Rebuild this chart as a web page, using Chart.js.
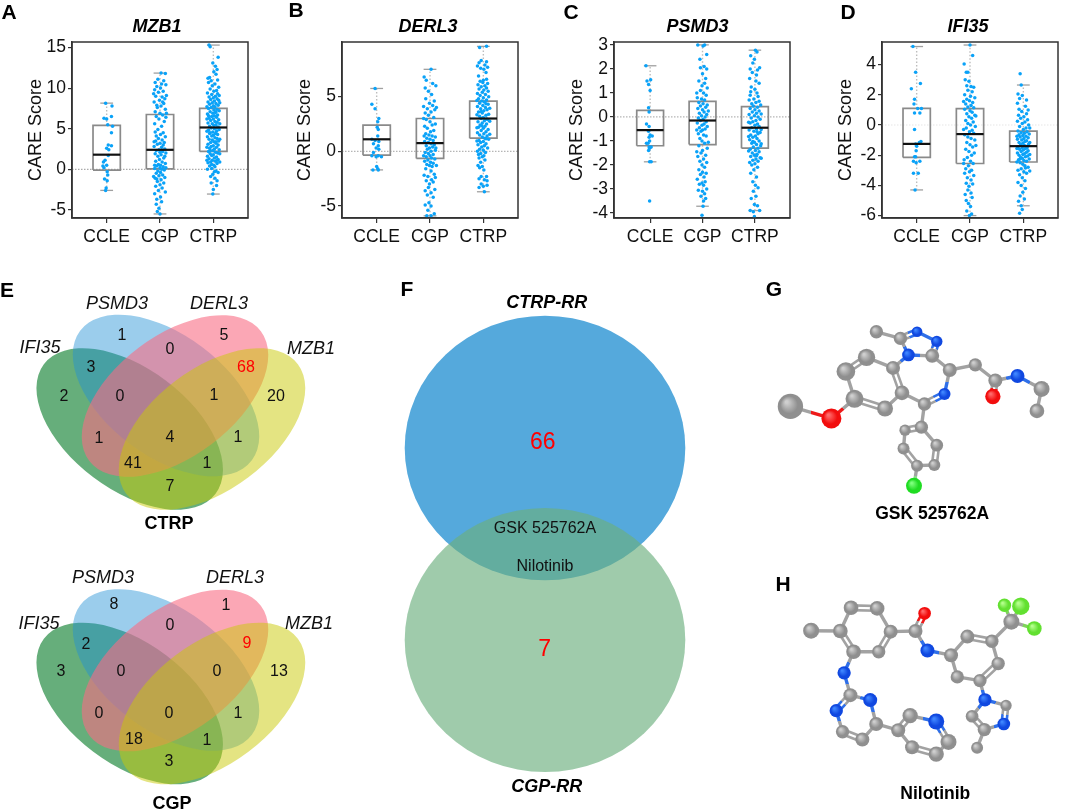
<!DOCTYPE html>
<html>
<head>
<meta charset="utf-8">
<script src="https://cdn.jsdelivr.net/npm/chart.js@4"></script>
<style>
  html, body { margin: 0; background: #fff; width: 1065px; height: 812px; overflow: hidden; }
  canvas { position: absolute; }
  .letter { position: absolute; font: bold 21px "Liberation Sans", Arial, sans-serif; color: #000; transform: translate(-50%, -50%); }
</style>
</head>
<body>
<script>
// categories and tick labels
const categories = ["CCLE", "CGP", "CTRP"];
const mzb1Ticks = [-5, 0, 5, 10, 15];
const derl3Ticks = [-5, 0, 5];
const psmd3Ticks = [-4, -3, -2, -1, 0, 1, 2, 3];
const ifi35Ticks = [-6, -4, -2, 0, 2, 4];

// box stats: whisker low, q1, median, q3, whisker high (CCLE, CGP, CTRP)
const mzb1Stats = [[-2.6, -0.1, 1.8, 5.4, 8.15], [-5.5, 0.05, 2.4, 6.75, 11.85], [-3.05, 2.2, 5.15, 7.5, 15.3]];
const derl3Stats = [[-1.7, -0.35, 1.1, 2.4, 5.75], [-5.9, -0.65, 0.75, 3.0, 7.5], [-3.7, 1.2, 3.0, 4.6, 9.6]];
const psmd3Stats = [[-1.87, -1.2, -0.55, 0.27, 2.13], [-3.72, -1.15, -0.15, 0.65, 3.0], [-3.9, -1.3, -0.45, 0.43, 2.78]];
const ifi35Stats = [[-4.3, -2.15, -1.25, 1.1, 5.2], [-6.0, -2.55, -0.6, 1.08, 5.3], [-5.35, -2.45, -1.4, -0.4, 2.65]];

// dots: sideways offset (hundredths of a category), score
const mzb1Ccle = [-2,8.15,10,7.8,9,6.5,-5,6.3,0,6.2,2,5.5,11,5.3,9,4.5,3,3.0,9,2.9,0,2.6,4,2.4,3,1.7,-3,1.1,-6,0.9,0,0.5,-7,0.4,-5,0.2,1,-0.3,2,-0.7,-4,-1.2,1,-1.4,-1,-2.3,-2,-2.6];
const mzb1Cgp = [2,11.85,10,11.8,-4,11.1,7,10.9,-9,10.7,3,10.5,11,10.4,-6,10.2,1,10.0,-10,9.8,6,9.6,-3,9.5,12,9.1,-8,9.0,4,8.9,9,8.7,-1,8.5,-11,8.3,7,8.1,2,7.8,-5,7.6,10,7.4,-9,7.1,0,6.9,5,6.7,-7,6.5,11,6.4,-2,6.2,8,5.9,-10,5.6,3,5.3,-4,4.9,-9,4.6,6,4.5,1,4.3,-7,4.1,10,4.0,-3,3.8,4,3.6,-8,3.5,8,3.3,0,3.2,-5,3.1,6,3.0,-11,2.8,3,2.7,9,2.5,-2,2.4,-7,2.3,5,2.2,0,2.1,11,2.0,-9,1.9,2,1.8,-4,1.6,7,1.4,-1,1.2,-8,1.0,4,0.9,10,0.7,-3,0.6,1,0.5,-6,0.4,6,0.3,0,0.2,-10,0.1,3,0,8,-0.1,-4,-0.2,1,-0.4,-7,-0.5,5,-0.7,-2,-0.8,9,-1.0,-9,-1.1,2,-1.3,-5,-1.5,7,-1.7,0,-1.9,-8,-2.1,4,-2.3,-3,-2.6,10,-2.8,-10,-3.0,1,-3.4,-6,-3.7,3,-4.0,-7,-4.3,-2,-4.8,-5,-5.2,0,-5.5,-12,9.3,5,8.3,-6,7.9,12,6.9,-11,3.4,9,1.6,-10,0.5,-6,-1.2,11,0.2,-12,-0.9];
const mzb1Ctrp = [-8,15.3,-6,15.1,9,13.8,-1,13.1,4,12.7,7,12.3,1,12.0,5,11.7,-7,11.3,-10,11.2,8,11.0,-4,10.9,-9,10.7,3,10.5,-2,10.3,10,10.1,-6,9.9,6,9.7,1,9.6,-11,9.4,8,9.3,-3,9.2,11,9.1,4,9.0,-8,8.9,0,8.8,7,8.7,-5,8.6,10,8.5,2,8.4,-10,8.3,-2,8.2,5,8.1,-7,8.0,9,7.9,0,7.8,3,7.7,-4,7.6,-9,7.5,7,7.4,1,7.3,11,7.2,-6,7.1,4,7.0,-1,6.9,-11,6.8,8,6.7,2,6.6,-3,6.5,6,6.4,-8,6.3,0,6.2,10,6.1,-5,6.0,3,5.9,7,5.8,-10,5.7,-2,5.6,5,5.5,1,5.4,-7,5.3,9,5.2,-4,5.1,2,5.0,11,4.9,-9,4.8,6,4.7,-1,4.6,-6,4.5,4,4.4,8,4.3,0,4.2,-3,4.1,-11,4.0,3,3.9,7,3.8,-8,3.7,-2,3.6,10,3.5,1,3.4,-5,3.3,5,3.2,-10,3.1,9,3.0,0,2.9,-4,2.8,6,2.7,-7,2.6,2,2.5,11,2.4,-1,2.3,-9,2.2,4,2.1,8,2.0,-6,1.9,0,1.8,-3,1.7,-11,1.6,6,1.5,2,1.4,-8,1.3,9,1.2,-2,1.1,4,1.0,-5,0.9,-10,0.8,7,0.7,1,0.5,-7,0.4,3,0.3,-3,0.1,-11,0,5,-0.2,9,-0.4,-1,-0.6,-5,-0.9,3,-1.1,7,-1.4,-4,-1.7,6,-2.0,0,-2.5,-1,-3.05,-12,7.7,12,8.2,-12,6.2,12,5.6,-12,4.7,12,3.7,-12,2.7,12,1.9,-12,1.1,12,0.9,5,7.1,-9,6.6,6,5.1,-7,4.4,5,3.4,-6,2.3,7,1.1,-3,0.6,2,-0.3];
const derl3Ccle = [-3,5.75,-9,4.3,-3,3.9,4,3.0,2,2.7,1,2.2,3,2.0,2,1.4,-9,1.1,-3,1.0,4,0.9,-6,0.7,3,0.5,-1,0.3,4,0.2,-6,-0.1,-9,-0.4,3,-0.4,-1,-0.5,9,-0.5,0,-1.4,2,-1.6,-7,-1.7,3,-1.7];
const derl3Cgp = [2,7.5,-11,6.8,-7,6.5,5,6.2,11,6.0,-9,5.8,-3,5.5,3,5.2,-8,4.8,8,4.6,-1,4.4,5,4.2,-12,4.1,-5,3.9,9,3.8,2,3.6,-9,3.5,-3,3.3,7,3.1,-7,2.9,0,2.7,10,2.5,4,2.4,-10,2.3,-5,2.1,7,1.9,1,1.8,-8,1.6,-2,1.5,4,1.4,10,1.3,-6,1.2,0,1.1,6,1.0,-10,0.9,-3,0.8,2,0.7,8,0.6,-7,0.5,5,0.4,-1,0.3,-5,0.2,10,0.1,2,0,-9,-0.1,-3,-0.2,6,-0.3,0,-0.4,-7,-0.5,3,-0.6,9,-0.7,-4,-0.8,-10,-0.9,1,-1.0,6,-1.1,-6,-1.2,-1,-1.3,4,-1.4,-8,-1.6,2,-1.8,8,-2.1,-11,-2.2,-4,-2.3,10,-2.4,3,-2.6,-7,-2.7,6,-2.8,-1,-3.0,-3,-3.3,9,-3.5,-9,-3.6,2,-3.8,-5,-4.0,6,-4.2,-2,-4.7,-9,-4.9,2,-5.0,-4,-5.4,8,-5.7,-6,-5.9,2,-5.9,-12,3.0,12,4.0,-11,1.4,11,0.3,-12,-0.4,12,-1.3];
const derl3Ctrp = [6,9.6,-7,9.5,-4,8.3,6,8.2,-8,8.1,3,7.9,-11,7.8,8,7.7,-5,7.6,1,7.5,5,7.2,-9,6.9,6,6.6,0,6.5,-6,6.4,-1,6.3,8,6.2,-10,6.1,3,6.0,-4,5.9,6,5.8,-8,5.7,1,5.6,9,5.5,-2,5.4,-11,5.3,4,5.2,-6,5.1,10,5.0,0,4.9,-9,4.8,6,4.7,-3,4.6,2,4.5,-7,4.4,9,4.3,-1,4.2,-11,4.1,4,4.0,-5,3.9,7,3.8,1,3.7,-9,3.6,-2,3.5,10,3.4,5,3.3,-7,3.2,0,3.1,-4,3.0,8,2.9,2,2.8,-10,2.7,-2,2.6,6,2.5,-6,2.4,3,2.3,-9,2.2,0,2.1,9,2.0,-4,1.9,5,1.8,-11,1.7,1,1.6,-7,1.5,7,1.4,-2,1.3,3,1.2,10,1.1,-8,1.0,0,0.9,-5,0.8,5,0.7,-10,0.6,2,0.5,-3,0.4,8,0.3,-7,0.2,0,0.1,-11,0,4,-0.1,-5,-0.2,-9,-0.3,1,-0.4,-2,-0.5,-8,-0.6,3,-0.8,-5,-1.0,-10,-1.3,-2,-1.4,-7,-1.5,1,-1.7,-4,-2.3,6,-2.3,-8,-2.5,2,-2.6,7,-2.7,-4,-3.0,0,-3.2,7,-3.1,-8,-3.3,2,-3.7,-12,4.65,12,3.95,-12,3.35,12,2.75,-12,2.15,12,1.55,-12,0.95,5,4.35,-4,3.65,6,2.95,-3,2.35,5,1.15];
const psmd3Ccle = [-8,2.13,-6,1.5,1,1.55,-3,1.35,0,1.1,-3,0.38,-2,0.2,-7,-0.3,-2,-0.4,-3,-0.6,0,-0.75,4,-0.8,-2,-0.85,-1,-1.0,-4,-1.1,-7,-1.1,-2,-1.25,2,-1.25,-1,-1.3,-3,-1.4,2,-1.87,-1,-1.87,-1,-3.5];
const psmd3Cgp = [-9,3.0,4,3.0,1,2.95,8,2.6,-5,2.4,3,2.1,-4,2.05,8,2.0,0,1.8,6,1.6,-7,1.5,4,1.4,-1,1.3,9,1.2,-4,1.1,2,1.0,7,0.9,-10,0.8,-2,0.75,4,0.7,-7,0.6,1,0.55,9,0.5,-4,0.45,6,0.4,-9,0.35,0,0.3,3,0.2,-6,0.15,8,0.1,-2,0.05,5,0,-8,-0.05,1,-0.1,-4,-0.15,7,-0.2,-10,-0.25,3,-0.3,-1,-0.35,9,-0.4,-6,-0.45,5,-0.5,0,-0.55,-3,-0.6,-8,-0.7,2,-0.75,7,-0.8,-5,-0.9,-1,-1.0,4,-1.1,-7,-1.2,9,-1.3,0,-1.4,-3,-1.5,6,-1.6,-9,-1.65,2,-1.75,-5,-1.85,8,-1.9,-1,-2.0,4,-2.1,-7,-2.2,0,-2.3,7,-2.35,-4,-2.4,3,-2.5,-10,-2.6,5,-2.7,-1,-2.75,-6,-2.8,2,-2.85,-8,-3.05,8,-3.0,0,-3.1,4,-3.2,-3,-3.3,6,-3.4,2,-3.5,1,-3.72,-1,-4.1,-11,1.0,11,0.25,-11,-0.55,11,-1.05,-11,-1.45];
const psmd3Ctrp = [1,2.78,4,2.7,-8,2.55,-1,2.4,-4,2.25,9,2.05,-9,2.0,5,1.95,-5,1.85,3,1.75,-10,1.6,2,1.5,8,1.4,-7,1.25,0,1.15,-8,1.05,4,1.0,-9,0.9,6,0.85,-2,0.75,-11,0.7,8,0.65,2,0.6,-6,0.55,11,0.5,-3,0.45,5,0.4,-9,0.35,0,0.3,8,0.25,-5,0.2,3,0.15,-11,0.1,-1,0.05,6,0,-7,-0.05,10,-0.1,2,-0.15,-4,-0.2,-9,-0.25,5,-0.3,0,-0.35,8,-0.4,-6,-0.45,3,-0.5,-11,-0.55,-2,-0.6,10,-0.65,6,-0.7,-8,-0.75,1,-0.8,-4,-0.85,4,-0.9,-10,-0.95,8,-1.0,-1,-1.05,-6,-1.1,3,-1.15,11,-1.2,-3,-1.25,6,-1.3,-9,-1.35,1,-1.4,8,-1.45,-5,-1.5,4,-1.55,-1,-1.6,-8,-1.65,10,-1.7,2,-1.75,-4,-1.8,6,-1.85,-10,-1.9,0,-1.95,-6,-2.0,5,-2.1,-2,-2.2,-8,-2.35,3,-2.5,-4,-2.7,1,-2.85,6,-2.95,-3,-3.1,2,-3.3,-7,-3.4,-1,-3.65,5,-3.7,-9,-3.9,9,-3.9,-3,-3.95,-1,-4.15,12,0.12,-12,-0.22,12,-0.52,-12,-0.82,12,-1.12,-12,-1.42,12,-1.72,4,-0.62,-4,-1.02,3,-1.62];
const ifi35Ccle = [-7,5.2,-2,3.5,7,2.75,-10,2.4,-4,1.7,-5,1.4,2,1.1,9,1.1,-4,0.8,6,0.8,-4,-0.3,8,-1.1,5,-1.15,-2,-1.25,0,-1.4,-1,-1.7,-4,-2.1,-2,-2.1,-6,-2.4,-1,-2.5,6,-2.4,-6,-3.2,3,-3.2,-3,-4.3];
const ifi35Cgp = [0,5.3,5,4.6,-11,4.05,-7,3.5,-4,3.5,-9,3.0,-2,2.9,-6,2.6,2,2.55,7,2.5,-4,2.3,4,2.2,-10,2.0,1,1.9,9,1.8,-6,1.7,-1,1.6,5,1.5,-8,1.4,2,1.3,-4,1.2,7,1.15,-10,1.05,0,0.95,4,0.85,-6,0.75,9,0.65,-2,0.55,3,0.45,-8,0.3,6,0.2,-4,0.1,1,0,10,-0.1,-7,-0.2,4,-0.35,-1,-0.45,7,-0.55,-10,-0.65,-4,-0.8,2,-0.9,9,-1.0,-6,-1.15,0,-1.3,5,-1.45,-8,-1.6,-2,-1.75,8,-1.85,3,-2.0,-5,-2.15,-11,-2.3,1,-2.4,6,-2.55,-3,-2.7,-8,-2.9,3,-3.0,-1,-3.1,-10,-3.2,7,-3.35,-5,-3.5,2,-3.65,-7,-3.85,5,-3.9,-2,-4.05,-4,-4.3,2,-4.5,-9,-4.6,4,-4.8,-7,-5.0,-3,-5.2,1,-5.4,-6,-5.7,3,-5.9,-1,-6.0,-12,1.55,11,0.6,-12,-0.3,11,-1.35,-12,-2.55];
const ifi35Ctrp = [-6,3.4,-4,2.65,-10,2.05,-2,1.95,-7,1.75,6,1.65,-11,1.45,4,1.25,-8,1.05,9,1.0,-3,0.9,6,0.75,-9,0.65,1,0.55,-5,0.45,8,0.35,-11,0.25,3,0.2,-2,0.1,10,0,-7,-0.1,5,-0.2,0,-0.3,-10,-0.4,7,-0.45,-4,-0.5,2,-0.55,11,-0.6,-8,-0.65,-1,-0.7,5,-0.75,-6,-0.8,9,-0.85,1,-0.9,-11,-0.95,-3,-1.0,6,-1.05,3,-1.1,-8,-1.15,-1,-1.2,10,-1.25,-5,-1.3,2,-1.35,7,-1.4,-10,-1.45,-2,-1.5,4,-1.55,-7,-1.6,0,-1.65,9,-1.7,-4,-1.75,6,-1.8,-11,-1.85,2,-1.9,-1,-1.95,-8,-2.0,8,-2.05,4,-2.1,-5,-2.15,-2,-2.2,11,-2.25,-9,-2.3,1,-2.35,6,-2.4,-6,-2.5,-1,-2.6,3,-2.7,9,-2.8,-4,-2.9,-10,-3.0,1,-3.1,6,-3.2,-7,-3.3,-2,-3.5,3,-3.7,-10,-3.8,-4,-4.0,4,-4.2,-1,-4.45,-6,-4.7,2,-4.9,-9,-5.05,-4,-5.35,-7,-5.85,-2,-5.6,12,-0.2,-12,-0.75,12,-1.15,-12,-1.55,12,-1.95,-12,-2.45,12,-3.05,7,-1.5,-6,-2.25,4,-2.85];

// venn counts, one per region, in the order of the position list below
const ctrpCounts = ["1", "5", "0", "3", "68", "2", "0", "1", "20", "1", "4", "1", "41", "1", "7"];
const cgpCounts = ["8", "1", "0", "2", "9", "3", "0", "0", "13", "0", "0", "1", "18", "1", "3"];
const rrSets = ["CTRP-RR", "CGP-RR"];
const rrOnly = ["66", "7"];
const rrShared = ["GSK 525762A", "Nilotinib"];

const ctrpSpots = [[122,336],[224,336],[170,350],[91,368],[246,368],[64,397],[120,397],[214,396],[276,397],[99,439],[170,438],[238,438],[133,464],[207,464],[170,487]];
const cgpSpots = [[114,605],[226,606],[170,626],[86,645],[247,644],[61,672],[121,672],[217,672],[279,672],[99,714],[169,714],[238,714],[134,740],[207,741],[169,762]];

// ball and stick models: atom x,y / radius / element (image units)
const gskXY = [434,130,512,152,566,130,630,162,615,210,538,207,488,250,402,215,335,262,363,353,462,385,517,333,672,257,655,337,590,370,755,240,820,292,812,345,892,277,970,320,955,393,288,418,155,378,580,447,527,457,630,507,522,518,622,573,566,575,556,642];
const gskR = [20,20,16,17,21,19,21,26,28,27,24,22,21,18,20,20,21,23,21,24,22,30,38,20,17,19,18,18,18,24];
const gskEl = "CCNNCNCCCCCCCNCCCONCCOCCCCCCCL";
const gskSingle = [0,1,2,3,4,5,5,1,5,6,6,7,8,9,10,11,4,12,12,13,14,11,12,15,15,16,16,18,18,19,19,20,9,21,21,22,14,23,23,25,24,26,27,28,28,29];
const gskDouble = [1,2,3,4,7,8,9,10,11,6,13,14,16,17,23,24,25,27,26,28];

const niloXY = [135,184,228,185,262,110,345,112,388,187,350,252,270,252,467,185,496,128,505,248,580,263,632,203,710,218,730,290,672,345,600,333,772,155,750,102,802,105,845,177,240,320,260,392,323,408,215,442,342,485,235,510,298,535,412,505,450,458,533,477,572,543,533,582,456,560,688,407,755,425,748,485,686,503,647,460,663,562];
const niloR = [24,22,22,22,21,20,22,21,19,21,21,21,20,20,20,20,24,20,26,22,20,21,21,20,21,20,21,21,23,24,24,23,21,20,17,19,20,19,18];
const niloEl = "CCCCCCCCONCCCCCCCFFFNCNNCCCCCNCCCNCNCCC";
const niloSingle = [0,1,1,2,3,4,5,6,4,7,7,9,9,10,10,11,12,13,14,15,15,10,12,16,16,17,16,18,16,19,6,20,20,21,21,22,22,24,23,25,26,24,24,27,28,29,30,31,32,27,14,33,33,34,35,36,37,33,36,38];
const niloDouble = [2,3,4,5,6,1,7,8,11,12,13,14,21,23,25,26,27,28,29,30,31,32,34,35,36,37];

const FONT = '"Liberation Sans", Arial, sans-serif';
Chart.defaults.font.family = FONT;
Chart.defaults.animation = false;
Chart.defaults.plugins.legend.display = false;
Chart.defaults.plugins.tooltip.enabled = false;

function addCanvas(left, top, w, h) {
  const c = document.createElement("canvas");
  c.width = w; c.height = h;
  c.style.left = left + "px"; c.style.top = top + "px";
  c.style.width = w + "px"; c.style.height = h + "px";
  document.body.appendChild(c);
  return c;
}

function pairs(flat, base) {
  const out = [];
  for (let i = 0; i < flat.length; i += 2) out.push({ x: base + flat[i] / 100, y: flat[i + 1] });
  return out;
}

function seg(data, color, width, dash) {
  return { data, showLine: true, borderColor: color, borderWidth: width, borderDash: dash || [], pointRadius: 0, fill: false };
}

// plot frame on the two sides the axes leave open
const framePlugin = {
  id: "frame",
  afterDatasetsDraw(chart) {
    const a = chart.chartArea, g = chart.ctx;
    g.save();
    g.strokeStyle = "#333";
    g.lineWidth = 1.5;
    g.strokeRect(a.left, a.top, a.right - a.left, a.bottom - a.top);
    g.restore();
  }
};

function boxPanel(p) {
  const c = addCanvas(p.left, 0, p.width, 250);
  const ds = [];
  const boxes = [], whisk = [];
  p.stats.forEach((s, i) => {
    const x = i + 1, h = 0.256, cap = 0.12;
    ds.push(seg([{ x: x - h, y: s[2] }, { x: x + h, y: s[2] }], "#111", 2.2));
    boxes.push(seg([{ x: x - h, y: s[1] }, { x: x + h, y: s[1] }, { x: x + h, y: s[3] }, { x: x - h, y: s[3] }, { x: x - h, y: s[1] }], "#8a8a8a", 1.7));
    whisk.push(seg([{ x, y: s[0] }, { x, y: s[1] }], "#bdbdbd", 1.4, [1.5, 2]));
    whisk.push(seg([{ x, y: s[3] }, { x, y: s[4] }], "#bdbdbd", 1.4, [1.5, 2]));
    whisk.push(seg([{ x: x - cap, y: s[0] }, { x: x + cap, y: s[0] }], "#a0a0a0", 1.3));
    whisk.push(seg([{ x: x - cap, y: s[4] }, { x: x + cap, y: s[4] }], "#a0a0a0", 1.3));
  });
  p.dots.forEach((d, i) => {
    ds.push({ data: pairs(d, i + 1), pointRadius: 1.75, pointBackgroundColor: "#0aa2f8", pointBorderWidth: 0 });
  });
  ds.push(...boxes, ...whisk);
  ds.push(seg([{ x: p.xMin, y: 0 }, { x: p.xMax, y: 0 }], p.zero, 1.2, [1.5, 1.5]));

  new Chart(c, {
    type: "scatter",
    data: { datasets: ds },
    plugins: [framePlugin],
    options: {
      responsive: false,
      plugins: {
        title: {
          display: true, text: p.title, color: "#000",
          font: { size: 18, style: "italic", weight: "bold", family: FONT, lineHeight: 1.2 },
          padding: { top: 16, bottom: 4.4 }
        }
      },
      scales: {
        x: {
          min: p.xMin, max: p.xMax,
          afterBuildTicks: s => { s.ticks = categories.map((_, i) => ({ value: i + 1 })); },
          afterFit: s => { s.height = 250 - 218; },
          ticks: { callback: v => categories[v - 1], color: "#111", font: { size: 17.5 }, padding: 4, maxRotation: 0, autoSkip: false },
          grid: { drawOnChartArea: false, tickLength: 5, color: "#333", lineWidth: 1.2 },
          border: { color: "#333", width: 1.5 }
        },
        y: {
          min: p.yMin, max: p.yMax,
          afterBuildTicks: s => { s.ticks = p.ticks.map(v => ({ value: v })); },
          afterFit: s => { s.width = p.plotLeft - p.left; },
          ticks: { callback: v => String(v), color: "#111", font: { size: 17.5 }, padding: 2, autoSkip: false },
          grid: { drawOnChartArea: false, tickLength: 4, color: "#333", lineWidth: 1.2 },
          border: { color: "#333", width: 1.5 },
          title: { display: true, text: "CARE Score", color: "#111", font: { size: 18, lineHeight: 1.2 }, padding: { top: p.labelX - 10.8 - p.left, bottom: 0 } }
        },
        // empty axis on the right so the title centres on the whole canvas
        spare: {
          axis: "y", position: "right", min: 0, max: 1,
          afterFit: s => { s.width = p.left + p.width - p.plotRight; },
          ticks: { display: false },
          grid: { display: false },
          border: { display: false }
        }
      }
    }
  });
}

boxPanel({ left: 0, width: 314, plotLeft: 72, plotRight: 248, title: "MZB1", labelX: 36, xMin: 0.35, xMax: 3.65, yMin: -6.0, yMax: 15.68, ticks: mzb1Ticks, stats: mzb1Stats, dots: [mzb1Ccle, mzb1Cgp, mzb1Ctrp], zero: "#aaa" });
boxPanel({ left: 270, width: 316, plotLeft: 342, plotRight: 518, title: "DERL3", labelX: 305, xMin: 0.35, xMax: 3.65, yMin: -6.1, yMax: 10.0, ticks: derl3Ticks, stats: derl3Stats, dots: [derl3Ccle, derl3Cgp, derl3Ctrp], zero: "#b5b5b5" });
boxPanel({ left: 540, width: 315, plotLeft: 614, plotRight: 790, title: "PSMD3", labelX: 577, xMin: 0.31, xMax: 3.67, yMin: -4.21, yMax: 3.12, ticks: psmd3Ticks, stats: psmd3Stats, dots: [psmd3Ccle, psmd3Cgp, psmd3Ctrp], zero: "#b5b5b5" });
boxPanel({ left: 832, width: 272, plotLeft: 882, plotRight: 1058, title: "IFI35", labelX: 846, xMin: 0.35, xMax: 3.65, yMin: -6.16, yMax: 5.5, ticks: ifi35Ticks, stats: ifi35Stats, dots: [ifi35Ccle, ifi35Cgp, ifi35Ctrp], zero: "#e6e6e6" });

// ellipses and text placed through the chart scales
const shapePlugin = {
  id: "shapes",
  beforeDatasetsDraw(chart, args, o) {
    const g = chart.ctx, sx = chart.scales.x, sy = chart.scales.y;
    (o.ellipses || []).forEach(e => {
      const cx = sx.getPixelForValue(e[0]), cy = sy.getPixelForValue(e[1]);
      g.beginPath();
      g.ellipse(cx, cy, Math.abs(sx.getPixelForValue(e[0] + e[2]) - cx), Math.abs(sy.getPixelForValue(e[1] + e[3]) - cy), e[4] * Math.PI / 180, 0, Math.PI * 2);
      g.fillStyle = e[5];
      g.fill();
    });
  },
  afterDatasetsDraw(chart, args, o) {
    const g = chart.ctx, sx = chart.scales.x, sy = chart.scales.y;
    g.textAlign = "center";
    g.textBaseline = "middle";
    (o.texts || []).forEach(t => {
      g.font = t[3] + " " + FONT;
      g.fillStyle = t[4] || "#111";
      g.fillText(t[0], sx.getPixelForValue(t[1]), sy.getPixelForValue(t[2]));
    });
  }
};

function plainPanel(left, top, w, h, xr, yr, shapes, datasets, extra) {
  const c = addCanvas(left, top, w, h);
  new Chart(c, {
    type: "scatter",
    data: { datasets: datasets || [] },
    plugins: (extra || []).concat([shapePlugin]),
    options: {
      responsive: false,
      plugins: { shapes },
      scales: {
        x: { display: false, min: xr[0], max: xr[1] },
        y: { display: false, min: yr[0], max: yr[1], reverse: true }
      }
    }
  });
}

function vennEllipses(dy) {
  return [
    [129.7, 429 + dy, 107.5, 60.5, 37, "rgba(0,120,35,0.6)"],
    [166, 395.5 + dy, 107.5, 60.5, 37, "rgba(33,144,213,0.45)"],
    [175, 396 + dy, 107.5, 60.5, -37, "rgba(248,108,132,0.6)"],
    [212, 429 + dy, 107.5, 60.5, -37, "rgba(201,201,5,0.5)"]
  ];
}

function vennTexts(counts, spots, redIdx) {
  return counts.map((n, i) => [n, spots[i][0], spots[i][1], "16px", i === redIdx ? "#f00" : "#111"]);
}

const ital = "italic 18px", bold = "bold 18px";
plainPanel(0, 295, 345, 240, [0, 345], [295, 535], {
  ellipses: vennEllipses(0),
  texts: vennTexts(ctrpCounts, ctrpSpots, 4).concat([
    ["PSMD3", 117, 303.5, ital], ["DERL3", 219, 303.5, ital], ["IFI35", 40, 347.5, ital], ["MZB1", 311, 348.5, ital], ["CTRP", 169, 524, bold, "#000"]
  ])
});
plainPanel(0, 568, 345, 244, [0, 345], [568, 812], {
  ellipses: vennEllipses(274.5),
  texts: vennTexts(cgpCounts, cgpSpots, 4).concat([
    ["PSMD3", 103, 578, ital], ["DERL3", 235, 578, ital], ["IFI35", 39, 623.5, ital], ["MZB1", 309, 623.5, ital], ["CGP", 172, 804, bold, "#000"]
  ])
});

plainPanel(400, 280, 310, 532, [400, 710], [280, 812], {
  ellipses: [
    [545, 448, 140.3, 132.2, 0, "#55a9dc"],
    [545, 640, 140.3, 132, 0, "rgba(108,175,126,0.65)"]
  ],
  texts: [
    [rrSets[0], 546.7, 302.7, "italic bold 18px", "#000"],
    [rrSets[1], 546.7, 787.3, "italic bold 18px", "#000"],
    [rrOnly[0], 542.7, 443, "23px", "#f00"],
    [rrOnly[1], 544.7, 650, "23px", "#f00"],
    [rrShared[0], 545, 528.3, "16px"],
    [rrShared[1], 545, 566.7, "16px"]
  ]
});

// molecules
const elementColor = { C: "#8f8f8f", N: "#1048e0", O: "#f20d0d", L: "#1fdc22", F: "#62e030" };
const elementGlow = { C: "#cfcfcf", N: "#3f86ff", O: "#ff6a6a", L: "#7dff7d", F: "#b4ff8c" };
const bondColor = { C: "#a2a2a2", N: "#2f6fe8", O: "#ee1a1a", L: "#8fd88f", F: "#7fd35c" };

function moleculePanel(left, top, w, h, xMax, yMax, xy, radii, els, single, dbl, name, nameX, nameY) {
  const atoms = [];
  for (let i = 0; i < xy.length; i += 2) atoms.push({ x: xy[i], y: xy[i + 1] });
  const bondPlugin = {
    id: "bonds",
    beforeDatasetsDraw(chart) {
      const g = chart.ctx, sx = chart.scales.x, sy = chart.scales.y;
      const stroke = (a, b, off) => {
        let x1 = sx.getPixelForValue(atoms[a].x), y1 = sy.getPixelForValue(atoms[a].y);
        let x2 = sx.getPixelForValue(atoms[b].x), y2 = sy.getPixelForValue(atoms[b].y);
        const len = Math.hypot(x2 - x1, y2 - y1) || 1;
        const nx = -(y2 - y1) / len * off, ny = (x2 - x1) / len * off;
        x1 += nx; y1 += ny; x2 += nx; y2 += ny;
        const grad = g.createLinearGradient(x1, y1, x2, y2);
        grad.addColorStop(0, bondColor[els[a]]);
        grad.addColorStop(0.5, bondColor[els[a]]);
        grad.addColorStop(0.5, bondColor[els[b]]);
        grad.addColorStop(1, bondColor[els[b]]);
        g.strokeStyle = grad;
        g.beginPath(); g.moveTo(x1, y1); g.lineTo(x2, y2); g.stroke();
      };
      g.save();
      g.lineCap = "round";
      g.lineWidth = 3.4;
      for (let i = 0; i < single.length; i += 2) stroke(single[i], single[i + 1], 0);
      g.lineWidth = 2.6;
      for (let i = 0; i < dbl.length; i += 2) { stroke(dbl[i], dbl[i + 1], 2.4); stroke(dbl[i], dbl[i + 1], -2.4); }
      g.restore();
    }
  };
  const ds = {
    data: atoms,
    clip: false,
    pointBorderWidth: 0,
    pointRadius: c => c.dataIndex === undefined ? 3 : radii[c.dataIndex] / 3,
    pointBackgroundColor: c => {
      if (c.dataIndex === undefined) return "#8f8f8f";
      const a = atoms[c.dataIndex], r = radii[c.dataIndex] / 3, chart = c.chart;
      const px = chart.scales.x.getPixelForValue(a.x), py = chart.scales.y.getPixelForValue(a.y);
      // chart.js asks for the options once before the scales are laid out
      if (!isFinite(px) || !isFinite(py)) return elementColor[els[c.dataIndex]];
      const grad = chart.ctx.createRadialGradient(px - r * 0.3, py - r * 0.35, r * 0.1, px, py, r);
      grad.addColorStop(0, elementGlow[els[c.dataIndex]]);
      grad.addColorStop(0.65, elementColor[els[c.dataIndex]]);
      grad.addColorStop(1, elementColor[els[c.dataIndex]]);
      return grad;
    }
  };
  plainPanel(left, top, w, h, [0, xMax], [0, yMax], { texts: [[name, nameX, nameY, "bold 17.5px", "#000"]] }, [ds], [bondPlugin]);
}

moleculePanel(730, 280, 335, 260, 1005, 780, gskXY, gskR, gskEl, gskSingle, gskDouble, rrShared[0], 615, 737);
moleculePanel(760, 565, 305, 247, 915, 741, niloXY, niloR, niloEl, niloSingle, niloDouble, rrShared[1], 530, 713);

// panel letters
[["A", 9, 12], ["B", 296, 10], ["C", 571, 12], ["D", 848, 12], ["E", 7, 290], ["F", 407, 289], ["G", 774, 289], ["H", 783, 584]].forEach(l => {
  const d = document.createElement("div");
  d.className = "letter";
  d.textContent = l[0];
  d.style.left = l[1] + "px";
  d.style.top = l[2] + "px";
  document.body.appendChild(d);
});
</script>
</body>
</html>
